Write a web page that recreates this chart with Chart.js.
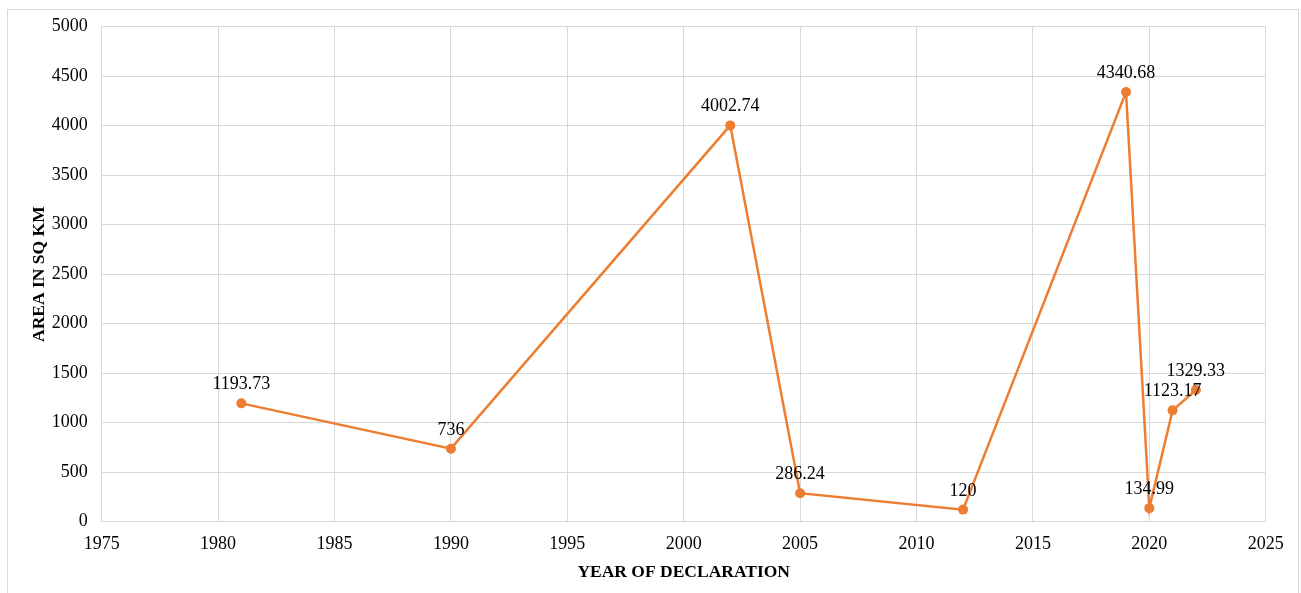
<!DOCTYPE html>
<html>
<head>
<meta charset="utf-8">
<script src="https://cdn.jsdelivr.net/npm/chart.js@4/dist/chart.umd.min.js"></script>
<style>
  html, body { margin: 0; padding: 0; background: #fff; }
  #wrap { width: 1301px; height: 593px; position: relative; }
</style>
</head>
<body>
<div id="wrap"><canvas id="c" width="1301" height="593"></canvas></div>
<script>
// Year of declaration and the protected area (sq km) declared that year
const years = [1981, 1990, 2002, 2005, 2012, 2019, 2020, 2021, 2022];
const areas = [1193.73, 736, 4002.74, 286.24, 120, 4340.68, 134.99, 1123.17, 1329.33];
const areaLabels = ['1193.73', '736', '4002.74', '286.24', '120', '4340.68', '134.99', '1123.17', '1329.33'];

const xTitle = 'YEAR OF DECLARATION';
const yTitle = 'AREA IN SQ KM';

const ORANGE = '#ED7D31';
const GRID = '#d9d9d9';
const SERIF = "'Liberation Serif', 'Times New Roman', serif";

// Light frame around the whole chart
const framePlugin = {
  id: 'frame',
  beforeDraw(chart) {
    const ctx = chart.ctx;
    ctx.save();
    ctx.fillStyle = '#fff';
    ctx.fillRect(0, 0, chart.width, chart.height);
    ctx.strokeStyle = GRID;
    ctx.lineWidth = 1;
    ctx.strokeRect(7.5, 9.5, 1291, chart.height + 10);
    ctx.restore();
  }
};

// Value labels written above each point
const valueLabels = {
  id: 'valueLabels',
  afterDatasetsDraw(chart) {
    const ctx = chart.ctx;
    const meta = chart.getDatasetMeta(0);
    ctx.save();
    ctx.font = '18px ' + SERIF;
    ctx.fillStyle = '#000';
    ctx.textAlign = 'center';
    ctx.textBaseline = 'alphabetic';
    meta.data.forEach((pt, i) => {
      ctx.fillText(areaLabels[i], pt.x, pt.y - 14);
    });
    ctx.restore();
  }
};

new Chart(document.getElementById('c'), {
  type: 'line',
  data: {
    datasets: [{
      data: years.map((y, i) => ({ x: y, y: areas[i] })),
      borderColor: ORANGE,
      backgroundColor: ORANGE,
      borderWidth: 2.5,
      pointRadius: 5,
      pointBorderWidth: 0,
      pointBackgroundColor: ORANGE,
      tension: 0,
      fill: false
    }]
  },
  options: {
    responsive: false,
    animation: false,
    layout: { padding: { left: 0, right: 35.3, top: 26.7, bottom: 0 } },
    plugins: {
      legend: { display: false },
      tooltip: { enabled: false }
    },
    scales: {
      x: {
        type: 'linear',
        min: 1975,
        max: 2025,
        afterFit(scale) { scale.height = 71.5; },
        ticks: {
          stepSize: 5,
          autoSkip: false,
          maxRotation: 0,
          padding: 12,
          color: '#000',
          font: { family: SERIF, size: 18 },
          callback: v => String(v)
        },
        grid: { color: GRID, lineWidth: 1, drawTicks: false },
        border: { color: GRID, width: 1 },
        title: {
          display: true,
          text: xTitle,
          color: '#000',
          font: { family: SERIF, size: 17.5, weight: 'bold' },
          padding: { top: 0, bottom: 10.5 }
        }
      },
      y: {
        min: 0,
        max: 5000,
        afterFit(scale) { scale.width = 101.7; },
        ticks: {
          stepSize: 500,
          padding: 14,
          color: '#000',
          font: { family: SERIF, size: 18 },
          callback: v => String(v)
        },
        grid: { color: GRID, lineWidth: 1, drawTicks: false },
        border: { color: GRID, width: 1 },
        title: {
          display: true,
          text: yTitle,
          color: '#000',
          font: { family: SERIF, size: 17.5, weight: 'bold' },
          padding: { top: 29, bottom: 0 }
        }
      }
    }
  },
  plugins: [framePlugin, valueLabels]
});
</script>
</body>
</html>
